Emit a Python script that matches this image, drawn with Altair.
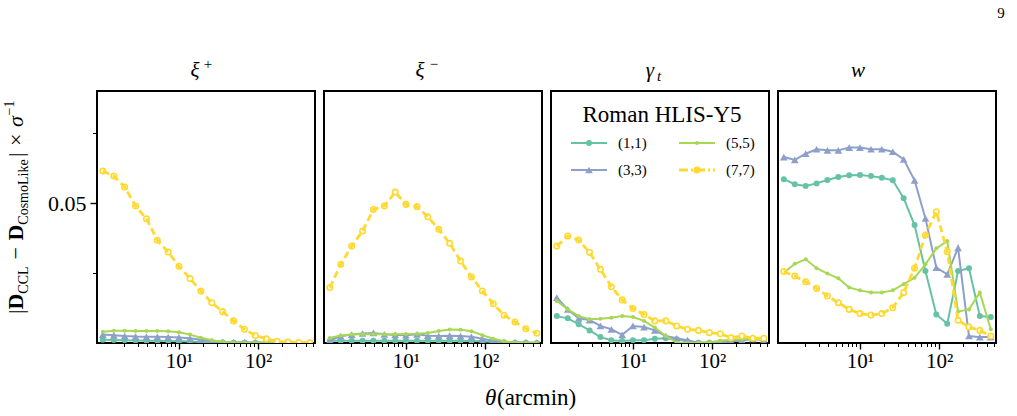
import altair as alt
import pandas as pd

FONT = "Liberation Serif"
W, H = 218, 252

# angular bins (arcmin)
theta = [1.09, 1.50, 2.06, 2.83, 3.88, 5.33, 7.31, 10.0, 13.8, 18.9,
         26.0, 35.7, 49.0, 67.3, 92.4, 127.0, 174.0, 239.0, 328.0, 451.0]

series = ["(1,1)", "(3,3)", "(5,5)", "(7,7)"]
colors = ["#66c2a5", "#8da0cb", "#a6d854", "#ffd92f"]

# xi_plus
xip_11 = [0.0012, 0.0011, 0.0010, 0.0009, 0.0008, 0.0008, 0.0007, 0.0006, 0.0005, 0.0004,
          0.0003, 0.0002, 0.0001, 0.0001, 0.0001, 0.0001, 0.0000, 0.0000, 0.0000, 0.0000]
xip_33 = [0.0030, 0.0028, 0.0025, 0.0023, 0.0022, 0.0022, 0.0021, 0.0020, 0.0017, 0.0012,
          0.0007, 0.0004, 0.0003, 0.0003, 0.0002, 0.0002, 0.0002, 0.0002, 0.0002, 0.0002]
xip_55 = [0.0040, 0.0044, 0.0044, 0.0043, 0.0043, 0.0043, 0.0042, 0.0038, 0.0030, 0.0019,
          0.0010, 0.0004, 0.0002, 0.0001, 0.0001, 0.0000, 0.0000, 0.0000, 0.0000, 0.0000]
xip_77 = [0.0614, 0.0596, 0.0557, 0.0489, 0.0444, 0.0367, 0.0325, 0.0274, 0.0230, 0.0186,
          0.0144, 0.0112, 0.0079, 0.0049, 0.0027, 0.0015, 0.0006, 0.0003, 0.0002, 0.0001]

# xi_minus
xim_11 = [0.0008, 0.0008, 0.0008, 0.0008, 0.0008, 0.0008, 0.0008, 0.0008, 0.0008, 0.0008,
          0.0008, 0.0008, 0.0008, 0.0007, 0.0006, 0.0004, 0.0002, 0.0001, 0.0001, 0.0000]
xim_33 = [0.0010, 0.0024, 0.0030, 0.0034, 0.0036, 0.0031, 0.0029, 0.0028, 0.0031, 0.0026,
          0.0025, 0.0026, 0.0025, 0.0022, 0.0015, 0.0008, 0.0004, 0.0002, 0.0002, 0.0001]
xim_55 = [0.0018, 0.0027, 0.0030, 0.0031, 0.0031, 0.0031, 0.0031, 0.0032, 0.0033, 0.0036,
          0.0043, 0.0048, 0.0047, 0.0042, 0.0028, 0.0015, 0.0006, 0.0002, 0.0001, 0.0001]
xim_77 = [0.0198, 0.0281, 0.0346, 0.0400, 0.0477, 0.0489, 0.0539, 0.0495, 0.0487, 0.0451,
          0.0406, 0.0356, 0.0293, 0.0236, 0.0186, 0.0140, 0.0099, 0.0075, 0.0051, 0.0035]

# gamma_t
gt_11 = [0.0096, 0.0088, 0.0067, 0.0045, 0.0021, 0.0010, 0.0007, 0.0010, 0.0010, 0.0015,
         0.0017, 0.0013, 0.0005, 0.0001, 0.0001, 0.0003, 0.0008, 0.0012, 0.0013, 0.0012]
gt_33 = [0.0162, 0.0120, 0.0088, 0.0082, 0.0061, 0.0049, 0.0029, 0.0061, 0.0057, 0.0045,
         0.0025, 0.0017, 0.0010, 0.0001, 0.0001, 0.0002, 0.0005, 0.0010, 0.0015, 0.0013]
gt_55 = [0.0150, 0.0120, 0.0096, 0.0085, 0.0087, 0.0090, 0.0096, 0.0093, 0.0079, 0.0055,
         0.0025, 0.0001, 0.0000, 0.0001, 0.0003, 0.0008, 0.0012, 0.0013, 0.0013, 0.0013]
gt_77 = [0.0346, 0.0382, 0.0368, 0.0323, 0.0263, 0.0201, 0.0154, 0.0123, 0.0102, 0.0079,
         0.0079, 0.0061, 0.0049, 0.0045, 0.0037, 0.0033, 0.0019, 0.0025, 0.0017, 0.0017]

# w
w_11 = [0.0585, 0.0567, 0.0561, 0.0570, 0.0582, 0.0593, 0.0599, 0.0600, 0.0596, 0.0590,
        0.0581, 0.0517, 0.0421, 0.0257, 0.0102, 0.0069, 0.0257, 0.0267, 0.0096, 0.0093]
w_33 = [0.0664, 0.0654, 0.0676, 0.0692, 0.0688, 0.0688, 0.0698, 0.0698, 0.0692, 0.0692,
        0.0683, 0.0656, 0.0581, 0.0445, 0.0269, 0.0245, 0.0340, 0.0025, 0.0021, 0.0021]
w_55 = [0.0251, 0.0283, 0.0299, 0.0267, 0.0248, 0.0231, 0.0198, 0.0188, 0.0180, 0.0180,
        0.0188, 0.0210, 0.0233, 0.0281, 0.0338, 0.0364, 0.0112, 0.0120, 0.0180, 0.0049]
w_77 = [0.0255, 0.0239, 0.0219, 0.0195, 0.0168, 0.0144, 0.0120, 0.0105, 0.0100, 0.0105,
        0.0126, 0.0180, 0.0267, 0.0386, 0.0469, 0.0326, 0.0081, 0.0057, 0.0045, 0.0025]

panel_names = ["xip", "xim", "gt", "w"]
panel_values = {
    "xip": [xip_11, xip_33, xip_55, xip_77],
    "xim": [xim_11, xim_33, xim_55, xim_77],
    "gt": [gt_11, gt_33, gt_55, gt_77],
    "w": [w_11, w_33, w_55, w_77],
}

x_ticks = [2, 3, 4, 5, 6, 7, 8, 9, 10, 20, 30, 40, 50, 60, 70, 80, 90,
           100, 200, 300, 400, 500]
y_ticks = [0.025, 0.05, 0.075]

rows = []
for p in panel_names:
    for s, vals in zip(series, panel_values[p]):
        for t, v in zip(theta, vals):
            rows.append({"panel": p, "series": s, "theta": t, "value": v})
df = pd.DataFrame(rows)

ONE = alt.Data(values=[{"k": 0}])

xs = alt.Scale(type="log", domain=[0.92, 525], nice=False)
ys = alt.Scale(domain=[0, 0.09], nice=False, zero=False)

MAJOR = "datum.value == 10 || datum.value == 100"
x_axis = alt.Axis(
    values=x_ticks,
    labelExpr="datum.value == 10 ? '10\u00b9' : (datum.value == 100 ? '10\u00b2' : '')",
    tickSize={"condition": {"test": MAJOR, "value": 6}, "value": 3.5},
    tickWidth={"condition": {"test": MAJOR, "value": 1.4}, "value": 1},
    domain=False, grid=False, title=None, labelFont=FONT, labelFontSize=21,
    labelColor="black", tickColor="black", labelPadding=1,
    labelOverlap=False, labelFlush=False,
)
y_axis = alt.Axis(
    values=y_ticks,
    labelExpr="datum.value == 0.05 ? '0.05' : ''",
    tickSize={"condition": {"test": "datum.value == 0.05", "value": 7}, "value": 4.5},
    tickWidth={"condition": {"test": "datum.value == 0.05", "value": 1.4}, "value": 1},
    domain=False, grid=False, title=None, labelFont=FONT, labelFontSize=22,
    labelColor="black", tickColor="black", labelPadding=4,
    labelOverlap=False, labelFlush=False,
)

YDASH = [7, 4]


def txt(t, x, y, size, style="normal", weight="normal", angle=0,
        align="center", baseline="alphabetic"):
    return alt.Chart(ONE).mark_text(
        text=t, font=FONT, fontSize=size, fontStyle=style, fontWeight=weight,
        angle=angle, align=align, baseline=baseline, color="black"
    ).encode(x=alt.value(x), y=alt.value(y))


def data_layers(p, yaxis):
    enc = dict(
        x=alt.X("theta:Q", scale=xs, axis=x_axis),
        y=alt.Y("value:Q", scale=ys, axis=yaxis),
    )
    base = alt.Chart(df).transform_filter(alt.datum.panel == p)
    layers = []
    for s, c in zip(series, colors):
        b = base.transform_filter(alt.datum.series == s)
        if s == "(1,1)":
            layers.append(b.mark_line(color=c, strokeWidth=2, clip=True).encode(**enc))
            layers.append(b.mark_point(shape="circle", filled=True, color=c, size=36,
                                       opacity=1, clip=True).encode(**enc))
        elif s == "(3,3)":
            layers.append(b.mark_line(color=c, strokeWidth=2, clip=True).encode(**enc))
            layers.append(b.mark_point(shape="triangle-up", filled=True, color=c, size=60,
                                       opacity=1, clip=True).encode(**enc))
        elif s == "(5,5)":
            layers.append(b.mark_line(color=c, strokeWidth=2, clip=True).encode(**enc))
            layers.append(b.mark_point(shape="circle", filled=True, color=c, size=16,
                                       opacity=1, clip=True).encode(**enc))
        else:
            layers.append(b.mark_point(shape="circle", filled=True, fill="white", stroke=c,
                                       strokeWidth=1.6, size=30, opacity=1,
                                       clip=True).encode(**enc))
            layers.append(b.mark_line(color=c, strokeWidth=2.8, strokeDash=YDASH,
                                      clip=True).encode(**enc))
    return layers


# ---- panel 1 : xi+
p1 = data_layers("xip", y_axis)
p1 += [txt("\u03be", 98, -14, 21, style="italic"),
       txt("+", 111, -22, 15)]
# y-axis label, built from rotated pieces
ylab = [
    ("|", 223, 22, "normal", "normal", -74),
    ("D", 218.6, 22, "normal", "bold", -74),
    ("CCL", 202.7, 14, "normal", "normal", -69.5),
    ("\u2212", 168.5, 22, "normal", "normal", -74),
    ("D", 149.6, 22, "normal", "bold", -74),
    ("CosmoLike", 133.7, 14, "normal", "normal", -69.5),
    ("|", 66, 22, "normal", "normal", -74),
    ("\u00d7", 55, 22, "normal", "normal", -74),
    ("\u03c3", 36, 22, "italic", "normal", -74),
    ("\u22121", 24.5, 14, "normal", "normal", -83),
]
for t, yy, sz, st, wt, xx in ylab:
    p1.append(txt(t, xx, yy, sz, style=st, weight=wt, angle=270, align="left"))
# layout anchor (invisible)
p1.append(alt.Chart(ONE).mark_rule(opacity=0).encode(
    x=alt.value(-96), x2=alt.value(-95), y=alt.value(-90), y2=alt.value(-90)))
panel1 = alt.layer(*p1).properties(width=W, height=H)

# ---- panel 2 : xi-
p2 = data_layers("xim", None)
p2 += [txt("\u03be", 96, -14, 21, style="italic"),
       txt("\u2212", 110, -22, 15),
       txt("\u03b8", 161, 314, 23, style="italic", align="left"),
       txt("(arcmin)", 173, 314, 23, align="left")]
panel2 = alt.layer(*p2).properties(width=W, height=H)

# ---- panel 3 : gamma_t with legend
p3 = data_layers("gt", None)
p3 += [txt("\u03b3", 99, -14, 21, style="italic"),
       txt("t", 106, -10, 15, style="italic", align="left")]
p3.append(txt("Roman HLIS-Y5", 111, 24, 23, baseline="middle"))
leg_pos = {"(1,1)": (20, 52), "(3,3)": (20, 79), "(5,5)": (128, 52), "(7,7)": (128, 79)}
for s, c in zip(series, colors):
    x0, yy = leg_pos[s]
    if s == "(7,7)":
        p3.append(alt.Chart(ONE).mark_point(shape="circle", filled=True, fill=c,
                                            stroke=c, strokeWidth=1.6, size=30, opacity=1)
                  .encode(x=alt.value(x0 + 18), y=alt.value(yy)))
        p3.append(alt.Chart(ONE).mark_rule(color=c, strokeWidth=2.8, strokeDash=[9, 3, 2, 3])
                  .encode(x=alt.value(x0), x2=alt.value(x0 + 36), y=alt.value(yy)))
    else:
        shape = "triangle-up" if s == "(3,3)" else "circle"
        size = {"(1,1)": 36, "(3,3)": 60, "(5,5)": 16}[s]
        p3.append(alt.Chart(ONE).mark_rule(color=c, strokeWidth=2)
                  .encode(x=alt.value(x0), x2=alt.value(x0 + 36), y=alt.value(yy)))
        p3.append(alt.Chart(ONE).mark_point(shape=shape, filled=True, color=c, size=size,
                                            opacity=1)
                  .encode(x=alt.value(x0 + 18), y=alt.value(yy)))
    p3.append(txt(s, x0 + 47, yy, 15, align="left", baseline="middle"))
panel3 = alt.layer(*p3).properties(width=W, height=H)

# ---- panel 4 : w
p4 = data_layers("w", None)
p4 += [txt("w", 80, -14, 21, style="italic"),
       txt("9", 223, -78, 15, baseline="middle")]
panel4 = alt.layer(*p4).properties(width=W, height=H)

chart = alt.hconcat(panel1, panel2, panel3, panel4, spacing=9, bounds="flush").properties(
    padding=0
).configure_view(stroke="black", strokeWidth=2).configure_axis(
    labelFont=FONT
)

chart.save("out.html", embed_options={"renderer": "svg", "actions": False})
